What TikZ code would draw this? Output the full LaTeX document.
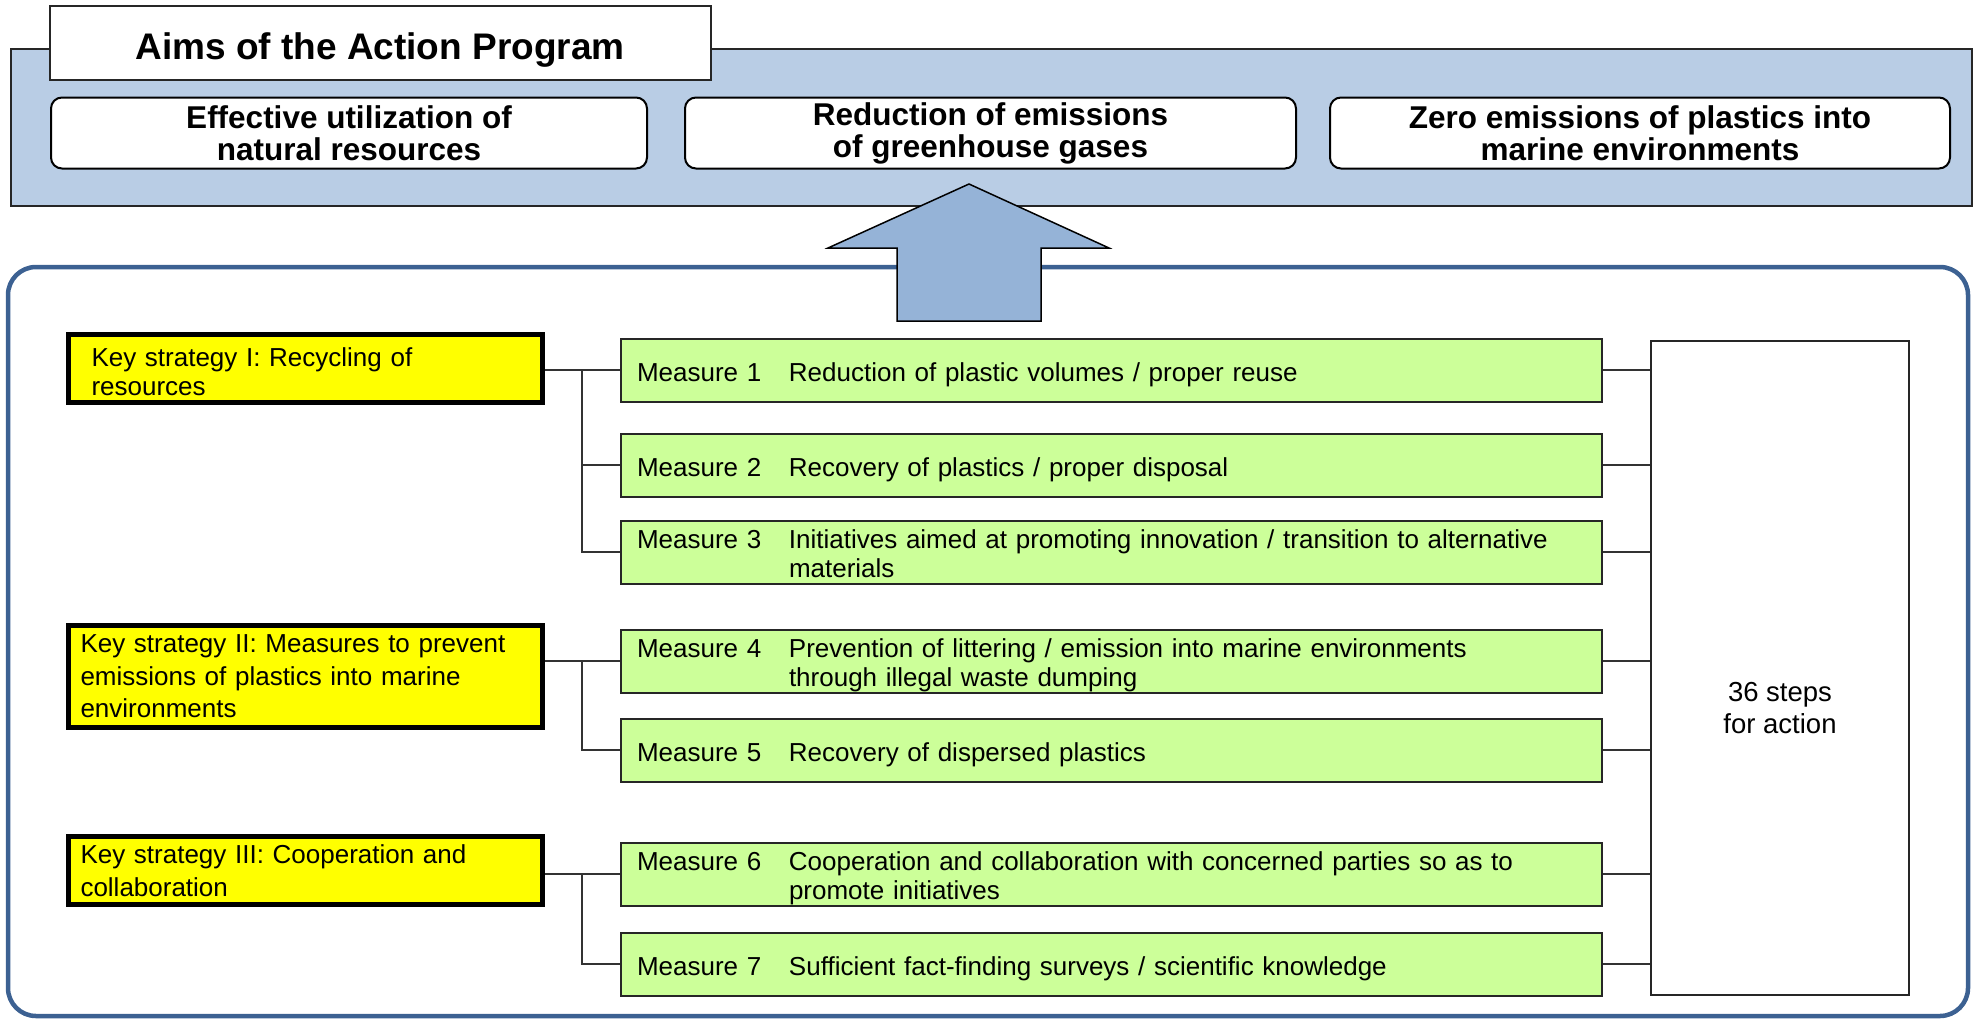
\documentclass[tikz,border=0pt]{standalone}
\usepackage{fontspec}
\setmainfont{Liberation Sans}
\definecolor{bandblue}{HTML}{B9CDE5}
\definecolor{arrowblue}{HTML}{95B3D7}
\definecolor{frameblue}{HTML}{3C6192}
\definecolor{measuregreen}{HTML}{CCFF99}
\definecolor{keyyellow}{HTML}{FFFF00}
\newcommand{\mtab}[1]{\raisebox{0pt}[\dimexpr\height+5.5pt\relax][\dimexpr\depth-5.5pt\relax]{\begin{tabular}{@{}p{152pt}@{}l@{}}#1\end{tabular}}}
\begin{document}
\begin{tikzpicture}[x=1pt,y=-1pt,
  bandbox/.style={draw=black!85, line width=2pt, fill=bandblue, inner sep=0pt},
  titlebox/.style={draw=black!85, line width=2pt, fill=white, inner sep=0pt, text height=32.4pt, text depth=0pt, font=\fontsize{37}{40}\selectfont\bfseries},
  aimbox/.style={draw=black, line width=2pt, fill=white, rounded corners=11pt, inner sep=0pt, minimum height=71pt, align=center, font=\fontsize{31.5}{32}\selectfont\bfseries},
  framebox/.style={draw=frameblue, line width=4.5pt, rounded corners=28pt, inner sep=0pt},
  bigarrow/.style={draw=black, line width=1.5pt, fill=arrowblue, line join=miter},
  keybox/.style={draw=black, line width=5pt, fill=keyyellow, minimum width=474pt, inner ysep=0pt, align=left, font=\fontsize{26}{32.5}\selectfont},
  measurebox/.style={draw=black!85, line width=2pt, fill=measuregreen, minimum height=63pt, text width=949pt, inner xsep=16pt, inner ysep=0pt, align=left, font=\fontsize{26}{29}\selectfont},
  stepsbox/.style={draw=black!85, line width=2pt, fill=white, minimum width=258pt, minimum height=654pt, inner sep=0pt},
  link/.style={draw=black!80, line width=1.8pt}]
\useasboundingbox (0,0) rectangle (1976,1020);

% top band
\node (band) [bandbox, minimum width=1961pt, minimum height=157pt] at (991.5,127) {};
\node (title) [titlebox, minimum width=661pt, minimum height=74pt] at (380,43) {Aims of the Action Program};
\node (aim1) [aimbox, minimum width=596pt] at (349,133) {Effective utilization of\\natural resources};
\node (aim2) [aimbox, minimum width=611pt] at (990.5,133) {Reduction of emissions\\of greenhouse gases};
\node (aim3) [aimbox, minimum width=620pt] at (1640,133) {Zero emissions of plastics into\\marine environments};

% frame
\node (frame) [framebox, minimum width=1960pt, minimum height=749pt] at (988,641.5) {};

% big arrow
\draw[bigarrow] (969,184) -- (1109,248) -- (1041,248) -- (1041,321) -- (897,321) -- (897,248) -- (828,248) -- cycle;

% key strategies
\node (ks1) [keybox, minimum height=68pt, inner xsep=23pt, text width=428pt, font=\fontsize{26}{29}\selectfont] at (305.5,368.5) {\rule{0pt}{25pt}Key strategy I: Recycling of\\resources};
\node (ks2) [keybox, minimum height=102pt, inner xsep=12pt, text width=450pt] at (305.5,676.5) {Key strategy II: Measures to prevent\\emissions of plastics into marine\\environments};
\node (ks3) [keybox, minimum height=68pt, inner xsep=12pt, text width=450pt] at (305.5,870.5) {Key strategy III: Cooperation and\\collaboration};

% measures
\node (m1) [measurebox] at (1111.5,370) {\mtab{Measure 1 & Reduction of plastic volumes / proper reuse}};
\node (m2) [measurebox] at (1111.5,465) {\mtab{Measure 2 & Recovery of plastics / proper disposal}};
\node (m3) [measurebox] at (1111.5,552) {\mtab{Measure 3 & Initiatives aimed at promoting innovation / transition to alternative\\ & materials}};
\node (m4) [measurebox] at (1111.5,661) {\mtab{Measure 4 & Prevention of littering / emission into marine environments\\ & through illegal waste dumping}};
\node (m5) [measurebox] at (1111.5,750) {\mtab{Measure 5 & Recovery of dispersed plastics}};
\node (m6) [measurebox] at (1111.5,874) {\mtab{Measure 6 & Cooperation and collaboration with concerned parties so as to\\ & promote initiatives}};
\node (m7) [measurebox] at (1111.5,964) {\mtab{Measure 7 & Sufficient fact-finding surveys / scientific knowledge}};

% steps box
\node (steps) [stepsbox] at (1780,668) {};
\node (stepslabel) [font=\fontsize{27.5}{32}\selectfont, align=center, inner sep=0pt] at ([yshift=-40pt]steps.center) {36 steps\\for action};

% left connectors
\coordinate (trunk) at (582,0);
\draw[link] (ks1.east |- m1.west) -- (m1.west);
\draw[link] (trunk |- m1.west) |- (m3.west);
\draw[link] (trunk |- m2.west) -- (m2.west);
\draw[link] (ks2.east |- m4.west) -- (m4.west);
\draw[link] (trunk |- m4.west) |- (m5.west);
\draw[link] (ks3.east |- m6.west) -- (m6.west);
\draw[link] (trunk |- m6.west) |- (m7.west);

% right connectors
\foreach \m in {m1,m2,m3,m4,m5,m6,m7}{
  \draw[link] (\m.east) -- (steps.west |- \m.east);
}
\end{tikzpicture}
\end{document}
